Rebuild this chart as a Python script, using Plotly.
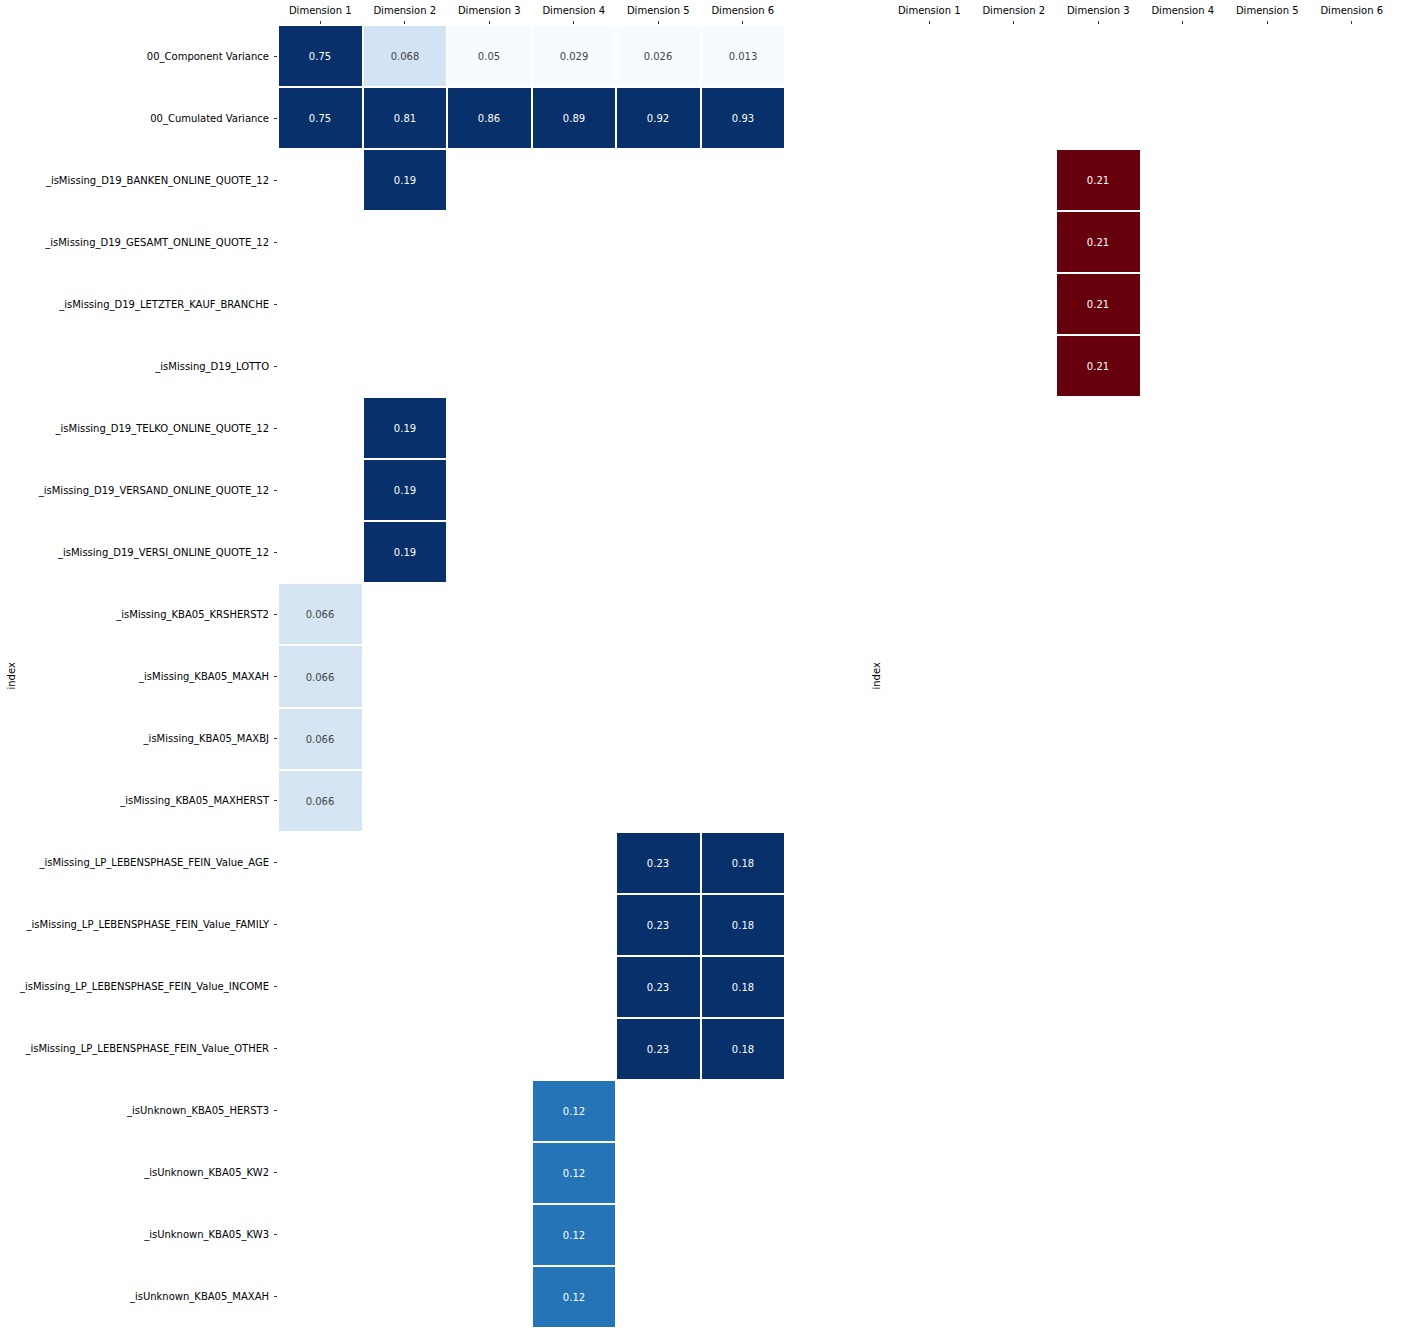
import plotly.graph_objects as go
import numpy as np

dimensions = ["Dimension 1", "Dimension 2", "Dimension 3", "Dimension 4", "Dimension 5", "Dimension 6"]
features = [
    "00_Component Variance",
    "00_Cumulated Variance",
    "_isMissing_D19_BANKEN_ONLINE_QUOTE_12",
    "_isMissing_D19_GESAMT_ONLINE_QUOTE_12",
    "_isMissing_D19_LETZTER_KAUF_BRANCHE",
    "_isMissing_D19_LOTTO",
    "_isMissing_D19_TELKO_ONLINE_QUOTE_12",
    "_isMissing_D19_VERSAND_ONLINE_QUOTE_12",
    "_isMissing_D19_VERSI_ONLINE_QUOTE_12",
    "_isMissing_KBA05_KRSHERST2",
    "_isMissing_KBA05_MAXAH",
    "_isMissing_KBA05_MAXBJ",
    "_isMissing_KBA05_MAXHERST",
    "_isMissing_LP_LEBENSPHASE_FEIN_Value_AGE",
    "_isMissing_LP_LEBENSPHASE_FEIN_Value_FAMILY",
    "_isMissing_LP_LEBENSPHASE_FEIN_Value_INCOME",
    "_isMissing_LP_LEBENSPHASE_FEIN_Value_OTHER",
    "_isUnknown_KBA05_HERST3",
    "_isUnknown_KBA05_KW2",
    "_isUnknown_KBA05_KW3",
    "_isUnknown_KBA05_MAXAH",
]
N = None
positive_loadings = [
    [0.75, 0.068, 0.05, 0.029, 0.026, 0.013],
    [0.75, 0.81, 0.86, 0.89, 0.92, 0.93],
    [N, 0.19, N, N, N, N],
    [N, N, N, N, N, N],
    [N, N, N, N, N, N],
    [N, N, N, N, N, N],
    [N, 0.19, N, N, N, N],
    [N, 0.19, N, N, N, N],
    [N, 0.19, N, N, N, N],
    [0.066, N, N, N, N, N],
    [0.066, N, N, N, N, N],
    [0.066, N, N, N, N, N],
    [0.066, N, N, N, N, N],
    [N, N, N, N, 0.23, 0.18],
    [N, N, N, N, 0.23, 0.18],
    [N, N, N, N, 0.23, 0.18],
    [N, N, N, N, 0.23, 0.18],
    [N, N, N, 0.12, N, N],
    [N, N, N, 0.12, N, N],
    [N, N, N, 0.12, N, N],
    [N, N, N, 0.12, N, N],
]
negative_loadings = [
    [N, N, N, N, N, N],
    [N, N, N, N, N, N],
    [N, N, 0.21, N, N, N],
    [N, N, 0.21, N, N, N],
    [N, N, 0.21, N, N, N],
    [N, N, 0.21, N, N, N],
] + [[N] * 6 for _ in range(15)]

pos = np.array(positive_loadings, dtype=float)
neg = np.array(negative_loadings, dtype=float)

blues = [[0.0, "#f7fbff"], [0.125, "#deebf7"], [0.25, "#c6dbef"], [0.375, "#9ecae1"],
         [0.5, "#6baed6"], [0.625, "#4292c6"], [0.75, "#2171b5"], [0.875, "#08519c"], [1.0, "#08306b"]]
reds = [[0.0, "#fff5f0"], [0.125, "#fee0d2"], [0.25, "#fcbba1"], [0.375, "#fc9272"],
        [0.5, "#fb6a4a"], [0.625, "#ef3b2c"], [0.75, "#cb181d"], [0.875, "#a50f15"], [1.0, "#67000d"]]

FONT = "DejaVu Sans"

fig = go.Figure()
fig.add_trace(go.Heatmap(
    z=pos, x=dimensions, y=features, colorscale=blues, zmin=0.05, zmax=0.145,
    showscale=False, xgap=2, ygap=2, texttemplate="%{z:.2~g}",
    textfont=dict(family=FONT, size=10), hoverongaps=False,
    xaxis="x", yaxis="y"))
fig.add_trace(go.Heatmap(
    z=neg, x=dimensions, y=features, colorscale=reds, zmin=0.05, zmax=0.145,
    showscale=False, xgap=2, ygap=2, texttemplate="%{z:.2~g}",
    textfont=dict(family=FONT, size=10), hoverongaps=False,
    xaxis="x2", yaxis="y2"))

W, H = 1404, 1339
ytop, ybot = 1 - 25 / H, 1 - 1328 / H
axis_common = dict(showgrid=False, zeroline=False, showline=False)
fig.update_layout(
    width=W, height=H, margin=dict(l=0, r=0, t=0, b=0),
    paper_bgcolor="white", plot_bgcolor="white",
    font=dict(family=FONT, size=10, color="#000000"),
    xaxis=dict(domain=[278 / W, 785 / W], side="top", ticks="outside", ticklen=3,
               ticklabelstandoff=3, tickcolor="#333", tickfont=dict(size=10),
               anchor="y", automargin=False, **axis_common),
    yaxis=dict(domain=[ybot, ytop], autorange="reversed", ticks="outside", ticklen=3,
               ticklabelstandoff=3, tickcolor="#333", tickfont=dict(size=10),
               anchor="x", automargin=False, **axis_common),
    xaxis2=dict(domain=[887 / W, 1394 / W], side="top", ticks="outside", ticklen=3,
                ticklabelstandoff=3, tickcolor="#333", tickfont=dict(size=10),
                anchor="y2", automargin=False, **axis_common),
    yaxis2=dict(domain=[ybot, ytop], autorange="reversed", showticklabels=False, ticks="",
                anchor="x2", automargin=False, **axis_common),
    annotations=[
        dict(text="index", x=11 / W, y=(ytop + ybot) / 2, xref="paper", yref="paper",
             xanchor="center", yanchor="middle",
             textangle=-90, showarrow=False, font=dict(size=10)),
        dict(text="index", x=876 / W, y=(ytop + ybot) / 2, xref="paper", yref="paper",
             xanchor="center", yanchor="middle",
             textangle=-90, showarrow=False, font=dict(size=10)),
    ],
)

fig.write_html("out.html")
